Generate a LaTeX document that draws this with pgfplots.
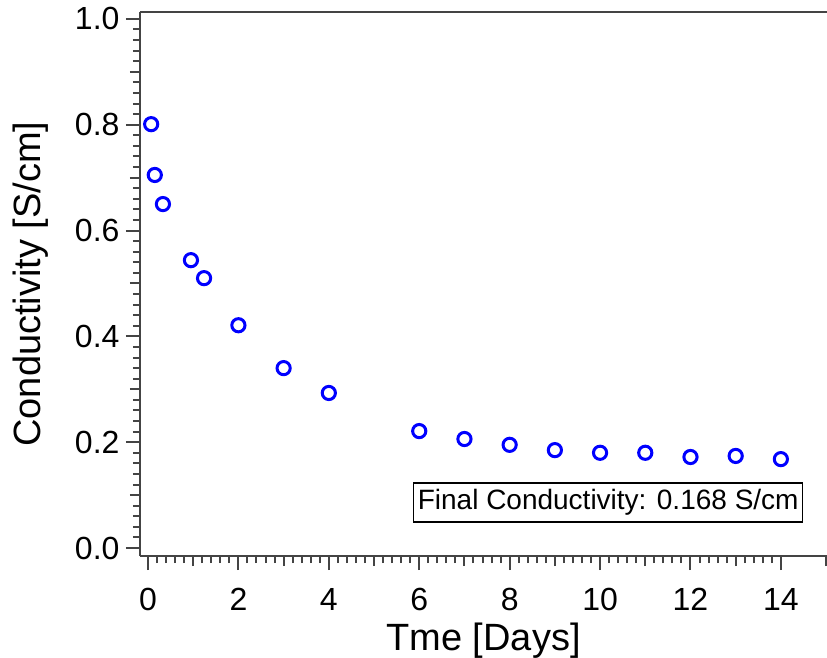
\documentclass[border=0pt]{standalone}
\usepackage{fontspec}
\setmainfont{Liberation Sans}
\usepackage{pgfplots}
\pgfplotsset{compat=1.18}

\definecolor{axisgray}{HTML}{444444}
\definecolor{ptblue}{HTML}{0000FF}

\pgfplotstableread{
t     sigma
0.07  0.801
0.15  0.705
0.33  0.650
0.95  0.544
1.24  0.510
2     0.421
3     0.340
4     0.293
6     0.221
7     0.206
8     0.195
9     0.185
10    0.180
11    0.180
12    0.172
13    0.174
14    0.168
}\conddata

\begin{document}
\begin{tikzpicture}
\begin{axis}[
  at={(0,0)}, anchor=south west,
  scale only axis,
  width=687pt, height=544pt,
  xmin=-0.177, xmax=15.02,
  ymin=-0.0151, ymax=1.013,
  axis x line=box,
  axis y line=left,
  axis line style={-, axisgray, line width=2.2pt},
  xtick={0,2,...,14},
  ytick={0,0.2,...,1.0},
  minor x tick num=9,
  minor y tick num=9,
  extra x ticks={1,3,...,15},
  extra y ticks={0.1,0.3,...,0.9},
  extra x tick labels={},
  extra y tick labels={},
  extra tick style={major tick length=10pt},
  xtick pos=bottom,
  ytick pos=left,
  tick align=outside,
  major tick length=14pt,
  minor tick length=7pt,
  every tick/.style={axisgray, line width=2pt},
  xticklabel style={font=\fontsize{32}{38}\selectfont, yshift=-15pt},
  yticklabel style={font=\fontsize{32}{38}\selectfont, xshift=-3pt,
    /pgf/number format/.cd, fixed, fixed zerofill, precision=1},
  /pgf/number format/assume math mode=true,
  xlabel={Tme [Days]},
  ylabel={Conductivity [S/cm]},
  xlabel style={font=\fontsize{38}{44}\selectfont,
    at={(axis description cs:0.5,0)}, anchor=base, yshift=-94pt},
  ylabel style={font=\fontsize{38}{44}\selectfont, yshift=-4pt},
  clip=false,
]
\addplot[only marks, mark=o, mark size=6.6pt,
  mark options={ptblue, line width=3pt}] table[x=t, y=sigma] {\conddata};
\node[draw=black, line width=1.3pt, fill=white, inner xsep=4pt, inner ysep=0pt,
  minimum height=39pt, font=\fontsize{28}{32}\selectfont]
  at (axis cs:10.18,0.086) {Final Conductivity: 0.168 S/cm};
\end{axis}
\pgfresetboundingbox
\path (-140pt,-101pt) rectangle (687pt,556pt);
\end{tikzpicture}
\end{document}
